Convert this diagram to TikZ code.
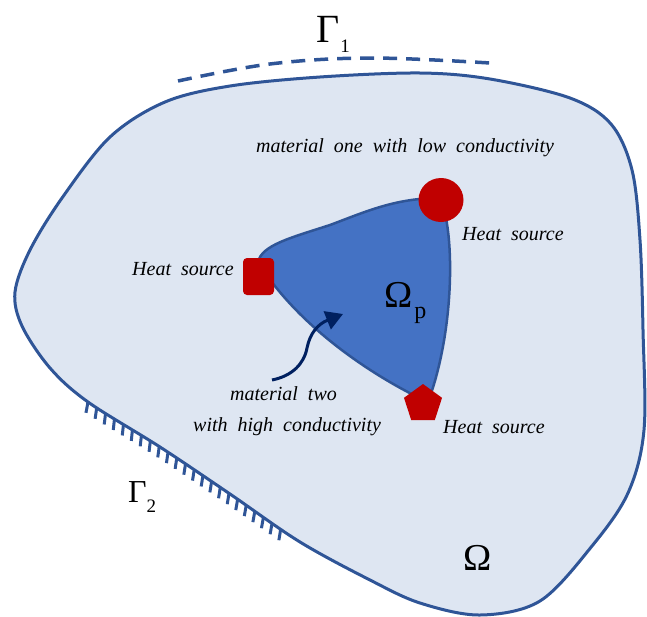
\documentclass[tikz,border=0pt]{standalone}
\usepackage{fontspec}
\setmainfont{Liberation Serif}
\usetikzlibrary{shapes.geometric,arrows.meta,decorations.markings}
\definecolor{outerfill}{RGB}{222,230,242}
\definecolor{edgeblue}{RGB}{47,85,151}
\definecolor{innerfill}{RGB}{68,114,196}
\definecolor{srcred}{RGB}{192,0,0}
\definecolor{navyarrow}{RGB}{0,32,96}
\begin{document}
\begin{tikzpicture}[x=1pt,y=-1pt,
  lab/.style={font={\fontsize{20}{24}\selectfont\itshape\spaceskip=10pt\relax}, inner sep=0pt, anchor=base west},
  greek/.style={inner sep=0pt, anchor=base west},
  src/.style={fill=srcred, draw=none, inner sep=0pt},
  gammaticks/.style={decoration={markings, mark=between positions 0pt and 232pt step 10.5pt with {\draw[edgeblue, line width=3pt] (0,0) -- (-65:11pt);}}, postaction={decorate}}
]
\useasboundingbox (0,0) rectangle (647,616);

% outer domain Omega with Gamma_2 ticks
\path[fill=outerfill, draw=edgeblue, line width=3pt, gammaticks]
  plot[smooth cycle, tension=0.55] coordinates {
  (50,368) (88,402) (160,447) (230,494) (300,542) (370,580) (420,603) (480,615) (540,601)
  (592,546) (628,493) (644,430) (643,330) (640,240) (632,170) (611,124) (570,98)
  (490,79) (420,73) (320,77) (230,86) (165,102) (110,137) (62,198) (30,250)
  (15,292) (22,326)};

% Gamma_1 dashed boundary
\draw[edgeblue, line width=3.5pt, dash pattern=on 14pt off 9pt]
  plot[smooth, tension=0.6] coordinates {(178,81) (270,64) (370,58) (490,63)};

% inner region Omega_p
\path[fill=innerfill, draw=edgeblue, line width=2.5pt]
  (258,262) .. controls (262,245) and (290,238) .. (330,225)
  .. controls (365,212) and (395,198) .. (440,198)
  .. controls (455,230) and (455,330) .. (428,402)
  .. controls (380,380) and (300,330) .. (258,262) -- cycle;

% heat sources
\node[src, rectangle, rounded corners=4pt, minimum width=31pt, minimum height=37pt] (sq) at (258.5,276.5) {};
\node[src, ellipse, minimum width=45pt, minimum height=44pt] (circ) at (441,200) {};
\node[src, regular polygon, regular polygon sides=5, minimum size=40pt] (pent) at (423,404) {};

% arrow
\coordinate (arrS) at (272,380);
\coordinate (arrE) at (343,314);
\draw[navyarrow, line width=3pt, -{Triangle[length=17pt,width=19pt]}]
  (arrS) .. controls (292,376) and (304,364) .. (307,348)
  .. controls (310,333) and (318,324) .. (arrE);

% labels
\node[lab] (lowc) at (256,152) {material one with low conductivity};
\node[lab] (hsL) at (132,275) {Heat source};
\node[lab] (hsC) at (462,240) {Heat source};
\node[lab] (hsP) at (443,433) {Heat source};
\node[lab] (mt1) at (230,400) {material two};
\node[lab] (mt2) at (193,431) {with high conductivity};

\node[greek] (g1) at (316,42) {\fontsize{40}{40}\selectfont Γ\hspace{1pt}\raisebox{-10pt}{\fontsize{19}{19}\selectfont 1}};
\node[greek] (g2) at (128,502) {\fontsize{32}{32}\selectfont Γ\raisebox{-10pt}{\fontsize{19}{19}\selectfont 2}};
\node[greek] (om) at (463,570) {\fontsize{38}{38}\selectfont Ω};
\node[greek] (omp) at (384,307) {\fontsize{38}{38}\selectfont Ω\hspace{2pt}\raisebox{-11pt}{\fontsize{24}{24}\selectfont p}};
\end{tikzpicture}
\end{document}
